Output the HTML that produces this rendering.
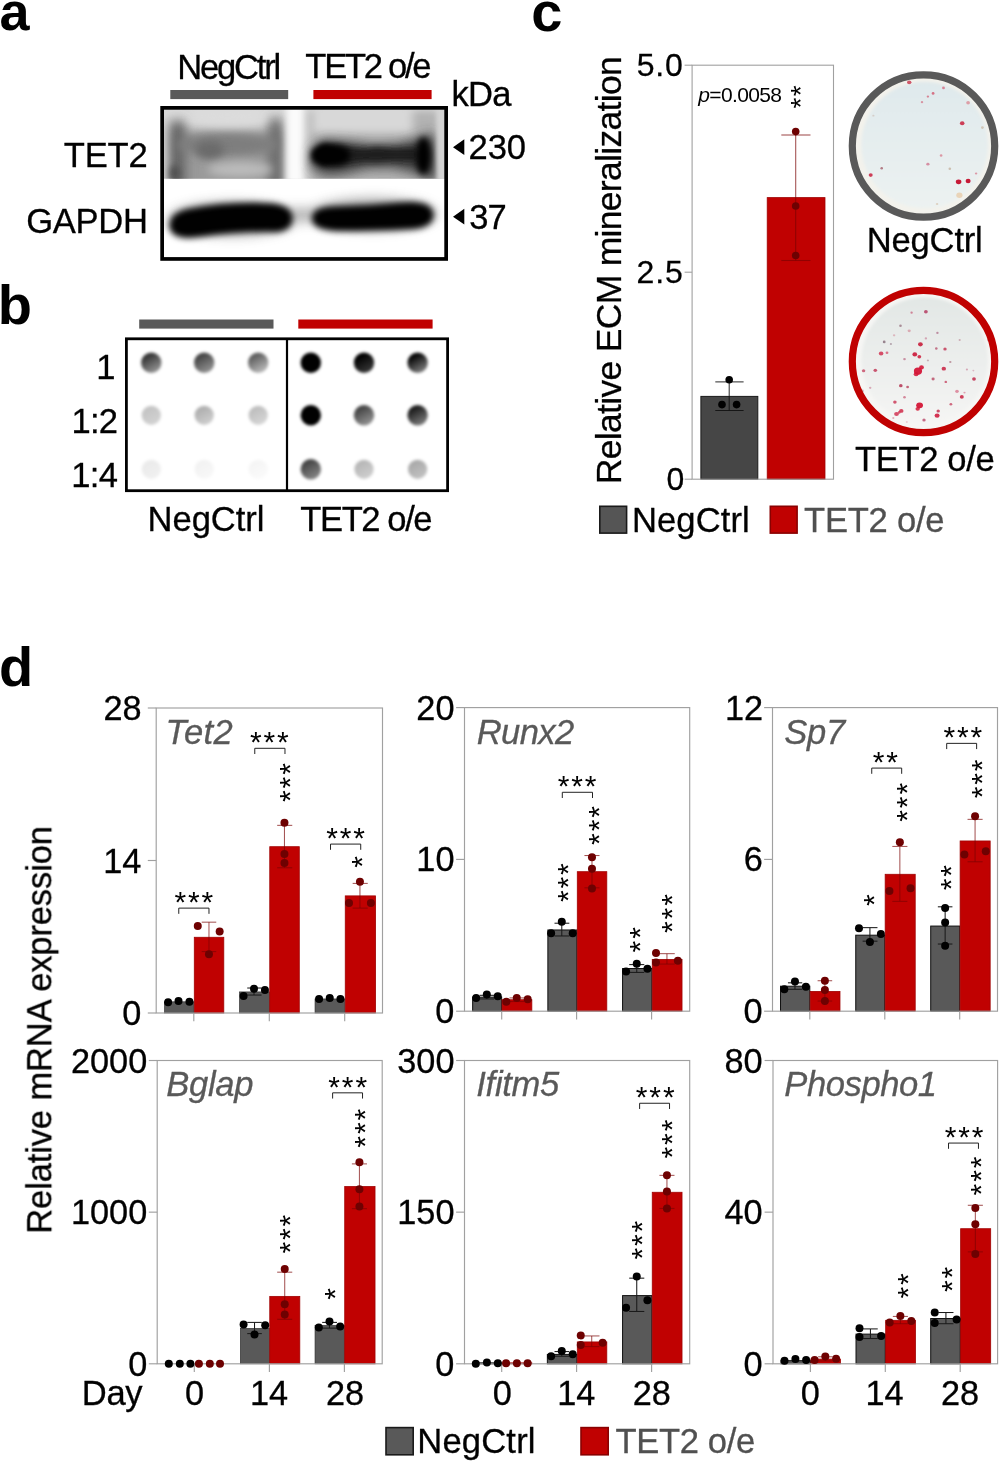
<!DOCTYPE html>
<html><head><meta charset="utf-8"><title>Figure</title>
<style>
html,body{margin:0;padding:0;background:#fff;}
body{width:999px;height:1462px;overflow:hidden;}
svg{display:block;font-family:"Liberation Sans",sans-serif;}
text{-webkit-font-smoothing:antialiased;}
</style></head><body>
<svg width="999" height="1462" viewBox="0 0 999 1462">
<defs>
<filter id="b1" filterUnits="userSpaceOnUse" x="130" y="80" width="350" height="200"><feGaussianBlur stdDeviation="1"/></filter>
<filter id="b2" filterUnits="userSpaceOnUse" x="130" y="80" width="350" height="200"><feGaussianBlur stdDeviation="2"/></filter>
<filter id="b3" filterUnits="userSpaceOnUse" x="130" y="80" width="350" height="200"><feGaussianBlur stdDeviation="3"/></filter>
<filter id="b4" filterUnits="userSpaceOnUse" x="130" y="80" width="350" height="200"><feGaussianBlur stdDeviation="4.5"/></filter>
<filter id="b6" filterUnits="userSpaceOnUse" x="130" y="80" width="350" height="200"><feGaussianBlur stdDeviation="6"/></filter>
<filter id="bd" x="-30%" y="-30%" width="160%" height="160%"><feGaussianBlur stdDeviation="1.3"/></filter>
<filter id="bs" x="-50%" y="-50%" width="200%" height="200%"><feGaussianBlur stdDeviation="0.6"/></filter>
<clipPath id="blotclip"><rect x="162" y="107.5" width="284.5" height="152"/></clipPath>
<clipPath id="upclip"><rect x="162" y="107.5" width="284.5" height="71.3"/></clipPath>
<clipPath id="loclip"><rect x="162" y="178.8" width="284.5" height="81"/></clipPath>
<filter id="bdot" filterUnits="userSpaceOnUse" x="120" y="335" width="335" height="160"><feGaussianBlur stdDeviation="1.4"/></filter>
<linearGradient id="dg00" x1="0.25" y1="0.05" x2="0.75" y2="0.95"><stop offset="0.15" stop-color="#000" stop-opacity="0.78"/><stop offset="0.9" stop-color="#000" stop-opacity="0.45"/></linearGradient>
<linearGradient id="dg01" x1="0.25" y1="0.05" x2="0.75" y2="0.95"><stop offset="0.15" stop-color="#000" stop-opacity="0.72"/><stop offset="0.9" stop-color="#000" stop-opacity="0.45"/></linearGradient>
<linearGradient id="dg02" x1="0.25" y1="0.05" x2="0.75" y2="0.95"><stop offset="0.15" stop-color="#000" stop-opacity="0.62"/><stop offset="0.9" stop-color="#000" stop-opacity="0.3"/></linearGradient>
<linearGradient id="dg03" x1="0.25" y1="0.05" x2="0.75" y2="0.95"><stop offset="0.15" stop-color="#000" stop-opacity="1"/><stop offset="0.9" stop-color="#000" stop-opacity="1"/></linearGradient>
<linearGradient id="dg04" x1="0.25" y1="0.05" x2="0.75" y2="0.95"><stop offset="0.15" stop-color="#000" stop-opacity="1"/><stop offset="0.9" stop-color="#000" stop-opacity="0.8"/></linearGradient>
<linearGradient id="dg05" x1="0.25" y1="0.05" x2="0.75" y2="0.95"><stop offset="0.15" stop-color="#000" stop-opacity="0.97"/><stop offset="0.9" stop-color="#000" stop-opacity="0.55"/></linearGradient>
<linearGradient id="dg10" x1="0.25" y1="0.05" x2="0.75" y2="0.95"><stop offset="0.15" stop-color="#000" stop-opacity="0.23"/><stop offset="0.9" stop-color="#000" stop-opacity="0.18"/></linearGradient>
<linearGradient id="dg11" x1="0.25" y1="0.05" x2="0.75" y2="0.95"><stop offset="0.15" stop-color="#000" stop-opacity="0.31"/><stop offset="0.9" stop-color="#000" stop-opacity="0.2"/></linearGradient>
<linearGradient id="dg12" x1="0.25" y1="0.05" x2="0.75" y2="0.95"><stop offset="0.15" stop-color="#000" stop-opacity="0.25"/><stop offset="0.9" stop-color="#000" stop-opacity="0.17"/></linearGradient>
<linearGradient id="dg13" x1="0.25" y1="0.05" x2="0.75" y2="0.95"><stop offset="0.15" stop-color="#000" stop-opacity="1"/><stop offset="0.9" stop-color="#000" stop-opacity="1"/></linearGradient>
<linearGradient id="dg14" x1="0.25" y1="0.05" x2="0.75" y2="0.95"><stop offset="0.15" stop-color="#000" stop-opacity="0.72"/><stop offset="0.9" stop-color="#000" stop-opacity="0.45"/></linearGradient>
<linearGradient id="dg15" x1="0.25" y1="0.05" x2="0.75" y2="0.95"><stop offset="0.15" stop-color="#000" stop-opacity="0.88"/><stop offset="0.9" stop-color="#000" stop-opacity="0.55"/></linearGradient>
<linearGradient id="dg20" x1="0.25" y1="0.05" x2="0.75" y2="0.95"><stop offset="0.15" stop-color="#000" stop-opacity="0.08"/><stop offset="0.9" stop-color="#000" stop-opacity="0.06"/></linearGradient>
<linearGradient id="dg21" x1="0.25" y1="0.05" x2="0.75" y2="0.95"><stop offset="0.15" stop-color="#000" stop-opacity="0.05"/><stop offset="0.9" stop-color="#000" stop-opacity="0.03"/></linearGradient>
<linearGradient id="dg22" x1="0.25" y1="0.05" x2="0.75" y2="0.95"><stop offset="0.15" stop-color="#000" stop-opacity="0.04"/><stop offset="0.9" stop-color="#000" stop-opacity="0.02"/></linearGradient>
<linearGradient id="dg23" x1="0.25" y1="0.05" x2="0.75" y2="0.95"><stop offset="0.15" stop-color="#000" stop-opacity="0.72"/><stop offset="0.9" stop-color="#000" stop-opacity="0.5"/></linearGradient>
<linearGradient id="dg24" x1="0.25" y1="0.05" x2="0.75" y2="0.95"><stop offset="0.15" stop-color="#000" stop-opacity="0.28"/><stop offset="0.9" stop-color="#000" stop-opacity="0.2"/></linearGradient>
<linearGradient id="dg25" x1="0.25" y1="0.05" x2="0.75" y2="0.95"><stop offset="0.15" stop-color="#000" stop-opacity="0.33"/><stop offset="0.9" stop-color="#000" stop-opacity="0.25"/></linearGradient>
<linearGradient id="dl1" x1="0" y1="0" x2="0" y2="1"><stop offset="0" stop-color="#dfe9ec"/><stop offset="1" stop-color="#ecf2f1"/></linearGradient>
<clipPath id="dc1"><circle cx="923.5" cy="146" r="68.8"/></clipPath>
<filter id="df1" filterUnits="userSpaceOnUse" x="833.5" y="56" width="180" height="180"><feGaussianBlur stdDeviation="1.6"/></filter>
<linearGradient id="dl2" x1="0" y1="0" x2="0" y2="1"><stop offset="0" stop-color="#e2e7e5"/><stop offset="1" stop-color="#f5f5f4"/></linearGradient>
<clipPath id="dc2"><circle cx="923.5" cy="361.5" r="68.8"/></clipPath>
<filter id="df2" filterUnits="userSpaceOnUse" x="833.5" y="271.5" width="180" height="180"><feGaussianBlur stdDeviation="1.6"/></filter>
</defs>
<rect width="999" height="1462" fill="#fff"/>
<g opacity="0.999">
<text x="-0.62" y="30.30" font-size="54.00" fill="#000" font-weight="bold">a</text>
<text x="177.23" y="78.70" font-size="34.60" fill="#000" stroke="#000" stroke-width="0.3" letter-spacing="-2.213">NegCtrl</text>
<text x="305.31" y="78.10" font-size="34.60" fill="#000" stroke="#000" stroke-width="0.3" letter-spacing="-2.280">TET2 o/e</text>
<rect x="170.30" y="90.00" width="117.90" height="9.10" fill="#595959" />
<rect x="313.40" y="90.00" width="118.20" height="9.10" fill="#c00000" />
<text x="451.55" y="105.50" font-size="34.60" fill="#000" stroke="#000" stroke-width="0.3" letter-spacing="-0.833">kDa</text>
<text x="63.81" y="167.20" font-size="34.60" fill="#000" stroke="#000" stroke-width="0.3" letter-spacing="-0.192">TET2</text>
<text x="26.17" y="232.60" font-size="34.60" fill="#000" stroke="#000" stroke-width="0.3" letter-spacing="-0.276">GAPDH</text>
<g clip-path="url(#blotclip)">
<g clip-path="url(#upclip)">
<rect x="160.00" y="106.00" width="290.00" height="74.00" fill="#dadada" />
<rect x="172.97" y="129.73" width="109.25" height="62.69" fill="#9a9a9a" filter="url(#b6)"/>
<rect x="169.86" y="121.04" width="14.90" height="71.38" fill="#5e5e5e" filter="url(#b6)"/>
<rect x="269.18" y="118.55" width="13.04" height="73.87" fill="#646464" filter="url(#b6)"/>
<ellipse cx="227.6" cy="144.6" rx="51.2" ry="11.2" fill="#7e7e7e" filter="url(#b4)"/>
<ellipse cx="209.6" cy="150.2" rx="14.3" ry="9.3" fill="#6a6a6a" filter="url(#b4)"/>
<ellipse cx="240.0" cy="169.5" rx="32.6" ry="7.4" fill="#bcbcbc" filter="url(#b4)"/>
<ellipse cx="227.6" cy="117.3" rx="38.8" ry="7.4" fill="#dcdcdc" filter="url(#b4)"/>
<ellipse cx="174.8" cy="173.2" rx="5.0" ry="8.1" fill="#505050" filter="url(#b3)"/>
<rect x="286.56" y="99.31" width="16.76" height="93.11" fill="#fbfbfb" filter="url(#b3)"/>
<rect x="308.91" y="110.48" width="129.73" height="81.94" fill="#b2b2b2" filter="url(#b4)"/>
<rect x="312.63" y="102.41" width="99.94" height="31.04" fill="#d8d8d8" filter="url(#b4)"/>
<path d="M310.8 149.6 L323.8 139.7 L348.6 142.1 L373.5 145.2 L398.3 144.0 L413.8 139.7 L434.0 132.2 L437.1 183.1 L413.8 172.6 L392.1 167.6 L367.3 168.2 L342.4 174.4 L323.8 175.7 L310.8 167.0 Z" fill="#3c3c3c" stroke="#3c3c3c" stroke-width="0" stroke-linejoin="round" filter="url(#b6)"/>
<path d="M323.8 149.0 L342.4 147.1 L364.2 149.3 L376.6 147.7 L395.2 149.3 L416.9 148.3 L416.9 160.5 L395.2 159.8 L376.6 161.1 L364.2 160.5 L342.4 163.2 L323.8 162.6 Z" fill="#1a1a1a" stroke="#1a1a1a" stroke-width="1" stroke-linejoin="round" filter="url(#b3)"/>
<path d="M313.3 152.1 L322.6 144.6 L339.3 145.9 L348.6 150.8 L348.6 160.1 L339.3 164.5 L322.6 165.1 L313.3 160.1 Z" fill="#000" stroke="#000" stroke-width="2" stroke-linejoin="round" filter="url(#b3)"/>
<ellipse cx="423.4" cy="155.8" rx="7.8" ry="18.6" fill="#000" filter="url(#b3)"/>
<ellipse cx="324.4" cy="154.6" rx="11.2" ry="7.8" fill="#000" filter="url(#b3)"/>
<rect x="437.09" y="102.41" width="10.86" height="90.01" fill="#d4d4d4" filter="url(#b2)"/>
</g>
<g clip-path="url(#loclip)">
<rect x="160.00" y="178.80" width="290.00" height="82.00" fill="#fff" />
<g filter="url(#b6)" opacity="0.55">
<ellipse cx="232" cy="219" rx="64" ry="17" fill="#666"/>
<ellipse cx="373" cy="214" rx="64" ry="16" fill="#666"/>
<rect x="285.00" y="208.00" width="35.00" height="14.00" fill="#777" />
</g>
<g filter="url(#b3)">
<path transform="translate(0 2.4)" d="M172 225 Q171 213 188 209 Q225 202 262 203 Q288 203 290 214 Q291 226 276 227 Q236 226 200 232 Q175 236 172 225 Z" fill="#000" stroke="#000" stroke-width="5" stroke-linejoin="round"/>
<path transform="translate(0 1.8)" d="M314 217 Q314 208 332 207 Q372 206 400 203 Q428 200 431 211 Q433 223 414 225 Q372 227 336 227 Q315 226 314 217 Z" fill="#000" stroke="#000" stroke-width="4.5" stroke-linejoin="round"/>
</g>
</g>
</g>
<rect x="162.15" y="107.85" width="284.00" height="151.10" fill="none" stroke="#000" stroke-width="3.7" />
<path d="M453 147.2 L464.3 139.3 V155.1 Z" fill="#000"/>
<text x="468.47" y="158.60" font-size="34.60" fill="#000" stroke="#000" stroke-width="0.3" letter-spacing="-0.034">230</text>
<path d="M453 216.7 L464.3 208.8 V224.6 Z" fill="#000"/>
<text x="469.22" y="228.60" font-size="34.60" fill="#000" stroke="#000" stroke-width="0.3" letter-spacing="-0.992">37</text>
<text x="-2.34" y="324.30" font-size="56.00" fill="#000" font-weight="bold">b</text>
<rect x="139.20" y="319.50" width="134.30" height="9.10" fill="#595959" />
<rect x="298.30" y="319.50" width="134.30" height="9.10" fill="#c00000" />
<rect x="126.40" y="338.80" width="321.20" height="151.90" fill="#fff" stroke="#000" stroke-width="2.8" />
<line x1="287.00" y1="338.80" x2="287.00" y2="490.80" stroke="#000" stroke-width="2.2" />
<circle cx="151.3" cy="362.8" r="10.2" fill="url(#dg00)" filter="url(#bdot)"/>
<circle cx="204.2" cy="362.8" r="10.2" fill="url(#dg01)" filter="url(#bdot)"/>
<circle cx="258.2" cy="362.8" r="10.2" fill="url(#dg02)" filter="url(#bdot)"/>
<circle cx="310.8" cy="362.8" r="10.2" fill="url(#dg03)" filter="url(#bdot)"/>
<circle cx="364.0" cy="362.8" r="10.2" fill="url(#dg04)" filter="url(#bdot)"/>
<circle cx="417.6" cy="362.8" r="10.2" fill="url(#dg05)" filter="url(#bdot)"/>
<circle cx="151.3" cy="415.3" r="9.6" fill="url(#dg10)" filter="url(#bdot)"/>
<circle cx="204.2" cy="415.3" r="9.6" fill="url(#dg11)" filter="url(#bdot)"/>
<circle cx="258.2" cy="415.3" r="9.6" fill="url(#dg12)" filter="url(#bdot)"/>
<circle cx="310.8" cy="415.3" r="10.2" fill="url(#dg13)" filter="url(#bdot)"/>
<circle cx="364.0" cy="415.3" r="10.2" fill="url(#dg14)" filter="url(#bdot)"/>
<circle cx="417.6" cy="415.3" r="10.2" fill="url(#dg15)" filter="url(#bdot)"/>
<circle cx="151.3" cy="469.3" r="9.6" fill="url(#dg20)" filter="url(#bdot)"/>
<circle cx="204.2" cy="469.3" r="9.6" fill="url(#dg21)" filter="url(#bdot)"/>
<circle cx="258.2" cy="469.3" r="9.6" fill="url(#dg22)" filter="url(#bdot)"/>
<circle cx="310.8" cy="469.3" r="10.2" fill="url(#dg23)" filter="url(#bdot)"/>
<circle cx="364.0" cy="469.3" r="9.6" fill="url(#dg24)" filter="url(#bdot)"/>
<circle cx="417.6" cy="469.3" r="9.6" fill="url(#dg25)" filter="url(#bdot)"/>
<text x="96.35" y="378.80" font-size="34.60" fill="#000" stroke="#000" stroke-width="0.3">1</text>
<text x="71.41" y="433.00" font-size="34.60" fill="#000" stroke="#000" stroke-width="0.3" letter-spacing="-0.685">1:2</text>
<text x="71.20" y="487.00" font-size="34.60" fill="#000" stroke="#000" stroke-width="0.3" letter-spacing="-0.631">1:4</text>
<text x="147.53" y="530.80" font-size="34.60" fill="#000" stroke="#000" stroke-width="0.3" letter-spacing="-0.046">NegCtrl</text>
<text x="300.31" y="530.80" font-size="34.60" fill="#000" stroke="#000" stroke-width="0.3" letter-spacing="-1.422">TET2 o/e</text>
<text x="531.36" y="31.30" font-size="56.00" fill="#000" font-weight="bold">c</text>
<text transform="translate(620.90 484.14) rotate(-90)" font-size="35.50" fill="#000" stroke="#000" stroke-width="0.3" letter-spacing="-0.694">Relative ECM mineralization</text>
<rect x="700.90" y="396.40" width="56.90" height="82.80" fill="#464646" stroke="#1a1a1a" stroke-width="1" />
<rect x="767.20" y="197.60" width="57.80" height="281.60" fill="#c00000" stroke="#a00000" stroke-width="0.8" />
<rect x="692.10" y="65.20" width="141.40" height="414.00" fill="none" stroke="#a0a0a0" stroke-width="1.1" />
<line x1="684.60" y1="65.20" x2="692.10" y2="65.20" stroke="#a0a0a0" stroke-width="1.1" />
<text x="636.72" y="76.20" font-size="32.00" fill="#000" stroke="#000" stroke-width="0.3" letter-spacing="0.760">5.0</text>
<line x1="684.60" y1="272.20" x2="692.10" y2="272.20" stroke="#a0a0a0" stroke-width="1.1" />
<text x="636.40" y="283.20" font-size="32.00" fill="#000" stroke="#000" stroke-width="0.3" letter-spacing="1.000">2.5</text>
<line x1="684.60" y1="479.20" x2="692.10" y2="479.20" stroke="#a0a0a0" stroke-width="1.1" />
<text x="666.56" y="490.20" font-size="32.00" fill="#000" stroke="#000" stroke-width="0.3">0</text>
<line x1="729.20" y1="381.90" x2="729.20" y2="410.50" stroke="#111" stroke-width="0.9" />
<line x1="715.30" y1="381.90" x2="743.60" y2="381.90" stroke="#111" stroke-width="0.9" />
<line x1="715.30" y1="410.50" x2="743.60" y2="410.50" stroke="#111" stroke-width="0.9" />
<circle cx="729.20" cy="379.80" r="3.80" fill="#000" />
<circle cx="722.00" cy="404.60" r="3.80" fill="#000" />
<circle cx="736.60" cy="404.60" r="3.80" fill="#000" />
<line x1="795.70" y1="135.00" x2="795.70" y2="260.50" stroke="#7a0000" stroke-width="1.1" stroke-opacity="0.68"/>
<line x1="781.30" y1="135.00" x2="810.50" y2="135.00" stroke="#7a0000" stroke-width="1.1" stroke-opacity="0.68"/>
<line x1="781.30" y1="260.50" x2="810.50" y2="260.50" stroke="#7a0000" stroke-width="1.1" stroke-opacity="0.68"/>
<circle cx="795.70" cy="131.60" r="3.80" fill="#6e0000" />
<circle cx="795.70" cy="206.00" r="3.80" fill="#6e0000" />
<circle cx="795.70" cy="255.50" r="3.80" fill="#6e0000" />
<text x="698.2" y="101.8" font-size="21" letter-spacing="-0.62"><tspan font-style="italic">p</tspan>=0.0058</text>
<text transform="translate(809.72 108.46) rotate(-90)" font-size="28" letter-spacing="1.3">**</text>
<rect x="599.80" y="506.30" width="26.80" height="26.80" fill="#555" stroke="#1a1a1a" stroke-width="1.6" />
<text x="632.03" y="531.50" font-size="34.60" fill="#000" stroke="#000" stroke-width="0.3" letter-spacing="0.070">NegCtrl</text>
<rect x="770.30" y="506.30" width="26.80" height="26.80" fill="#c00000" stroke="#8a0000" stroke-width="1.6" />
<text x="804.01" y="531.50" font-size="34.60" fill="#505050" stroke="#505050" stroke-width="0.3" letter-spacing="-0.237">TET2 o/e</text>
<circle cx="923.5" cy="146" r="71.2" fill="#f3f2ec"/>
<g clip-path="url(#dc1)">
<circle cx="924.7" cy="145.0" r="63.3" fill="url(#dl1)" filter="url(#df1)"/>
</g>
<g clip-path="url(#dc1)" filter="url(#bs)">
<ellipse cx="909.2" cy="82.3" rx="2.2" ry="1.9" fill="#c8324a" fill-opacity="0.8"/>
<ellipse cx="943.5" cy="87.9" rx="1.4" ry="1.3" fill="#d0405a" fill-opacity="0.6"/>
<ellipse cx="933.1" cy="93.4" rx="1.4" ry="1.3" fill="#d0405a" fill-opacity="0.7"/>
<ellipse cx="927.9" cy="96.6" rx="1.2" ry="1.1" fill="#d0405a" fill-opacity="0.6"/>
<ellipse cx="922.0" cy="102.2" rx="1.2" ry="1.1" fill="#d0405a" fill-opacity="0.5"/>
<ellipse cx="968.1" cy="102.7" rx="1.9" ry="1.7" fill="#d86a78" fill-opacity="0.6"/>
<ellipse cx="962.2" cy="123.3" rx="2.3" ry="2.0" fill="#c8203c" fill-opacity="0.85"/>
<ellipse cx="941.1" cy="155.5" rx="1.3" ry="1.2" fill="#d0405a" fill-opacity="0.5"/>
<ellipse cx="927.9" cy="164.2" rx="1.6" ry="1.4" fill="#c85070" fill-opacity="0.6"/>
<ellipse cx="881.7" cy="168.2" rx="1.3" ry="1.2" fill="#903040" fill-opacity="0.6"/>
<ellipse cx="870.7" cy="175.1" rx="2.0" ry="1.8" fill="#c8203c" fill-opacity="0.85"/>
<ellipse cx="949.8" cy="168.7" rx="1.3" ry="1.2" fill="#b09070" fill-opacity="0.5"/>
<ellipse cx="976.1" cy="173.5" rx="1.2" ry="1.1" fill="#d0405a" fill-opacity="0.5"/>
<ellipse cx="958.6" cy="181.8" rx="2.8" ry="2.4" fill="#c4102c" fill-opacity="0.95"/>
<ellipse cx="968.1" cy="181.0" rx="2.5" ry="2.2" fill="#c4102c" fill-opacity="0.95"/>
<ellipse cx="959.4" cy="195.3" rx="3.1" ry="2.7" fill="#e8c8a0" fill-opacity="0.7"/>
<ellipse cx="982.4" cy="127.6" rx="1.4" ry="1.3" fill="#c0a080" fill-opacity="0.5"/>
<ellipse cx="873.4" cy="115.7" rx="1.1" ry="0.9" fill="#c0a090" fill-opacity="0.4"/>
<ellipse cx="937.1" cy="204.0" rx="1.2" ry="1.1" fill="#d0b090" fill-opacity="0.5"/>
</g>
<circle cx="923.5" cy="146" r="71.2" fill="none" stroke="#595959" stroke-width="7.2"/>
<circle cx="923.5" cy="361.5" r="71.2" fill="#f6f6f4"/>
<g clip-path="url(#dc2)">
<circle cx="924.7" cy="360.5" r="63.3" fill="url(#dl2)" filter="url(#df2)"/>
</g>
<g clip-path="url(#dc2)" filter="url(#bs)">
<ellipse cx="925.9" cy="311.7" rx="1.9" ry="1.7" fill="#b03058" fill-opacity="0.8"/>
<ellipse cx="911.6" cy="312.7" rx="1.2" ry="1.1" fill="#c04060" fill-opacity="0.6"/>
<ellipse cx="900.5" cy="325.7" rx="1.3" ry="1.2" fill="#805060" fill-opacity="0.6"/>
<ellipse cx="909.2" cy="330.8" rx="1.6" ry="1.4" fill="#d08090" fill-opacity="0.6"/>
<ellipse cx="894.1" cy="335.3" rx="1.2" ry="1.1" fill="#d08090" fill-opacity="0.5"/>
<ellipse cx="937.4" cy="332.9" rx="1.2" ry="1.1" fill="#a05070" fill-opacity="0.6"/>
<ellipse cx="925.9" cy="338.4" rx="1.2" ry="1.1" fill="#c06080" fill-opacity="0.5"/>
<ellipse cx="884.2" cy="341.9" rx="1.4" ry="1.3" fill="#604050" fill-opacity="0.6"/>
<ellipse cx="890.9" cy="344.0" rx="1.1" ry="0.9" fill="#806070" fill-opacity="0.5"/>
<ellipse cx="920.4" cy="344.3" rx="2.4" ry="2.1" fill="#c8203c" fill-opacity="0.9"/>
<ellipse cx="959.7" cy="340.0" rx="1.1" ry="0.9" fill="#b07080" fill-opacity="0.5"/>
<ellipse cx="936.3" cy="348.5" rx="1.3" ry="1.2" fill="#b04060" fill-opacity="0.7"/>
<ellipse cx="945.0" cy="349.1" rx="1.7" ry="1.5" fill="#c03050" fill-opacity="0.8"/>
<ellipse cx="881.1" cy="353.6" rx="2.3" ry="2.0" fill="#d02848" fill-opacity="0.8"/>
<ellipse cx="887.0" cy="352.8" rx="1.4" ry="1.3" fill="#d04060" fill-opacity="0.7"/>
<ellipse cx="914.8" cy="354.4" rx="2.4" ry="2.1" fill="#cc1838" fill-opacity="0.9"/>
<ellipse cx="919.3" cy="356.7" rx="1.9" ry="1.7" fill="#cc1838" fill-opacity="0.85"/>
<ellipse cx="904.5" cy="359.1" rx="1.3" ry="1.2" fill="#b05070" fill-opacity="0.6"/>
<ellipse cx="927.9" cy="360.4" rx="1.1" ry="0.9" fill="#a07080" fill-opacity="0.5"/>
<ellipse cx="950.3" cy="362.0" rx="1.2" ry="1.1" fill="#a06070" fill-opacity="0.6"/>
<ellipse cx="943.8" cy="368.7" rx="2.2" ry="1.9" fill="#c82040" fill-opacity="0.85"/>
<ellipse cx="918.0" cy="371.1" rx="4.1" ry="3.6" fill="#d41436" fill-opacity="0.95"/>
<ellipse cx="921.5" cy="367.4" rx="2.4" ry="2.1" fill="#d41436" fill-opacity="0.9"/>
<ellipse cx="916.1" cy="374.2" rx="2.4" ry="2.1" fill="#d41436" fill-opacity="0.85"/>
<ellipse cx="875.3" cy="370.3" rx="1.8" ry="1.6" fill="#c03050" fill-opacity="0.8"/>
<ellipse cx="863.6" cy="370.7" rx="1.7" ry="1.5" fill="#c03050" fill-opacity="0.7"/>
<ellipse cx="966.9" cy="369.5" rx="1.1" ry="0.9" fill="#c06080" fill-opacity="0.5"/>
<ellipse cx="973.4" cy="370.6" rx="1.0" ry="0.8" fill="#c06080" fill-opacity="0.4"/>
<ellipse cx="974.0" cy="379.0" rx="1.9" ry="1.7" fill="#c02848" fill-opacity="0.85"/>
<ellipse cx="933.1" cy="379.0" rx="1.6" ry="1.4" fill="#b03050" fill-opacity="0.7"/>
<ellipse cx="945.8" cy="381.9" rx="1.3" ry="1.2" fill="#c03050" fill-opacity="0.7"/>
<ellipse cx="900.8" cy="385.7" rx="1.8" ry="1.6" fill="#b02848" fill-opacity="0.8"/>
<ellipse cx="907.6" cy="387.0" rx="1.4" ry="1.3" fill="#b02848" fill-opacity="0.7"/>
<ellipse cx="870.2" cy="387.8" rx="1.2" ry="1.1" fill="#c06080" fill-opacity="0.5"/>
<ellipse cx="957.0" cy="391.3" rx="1.8" ry="1.6" fill="#d05070" fill-opacity="0.6"/>
<ellipse cx="961.8" cy="396.9" rx="2.0" ry="1.8" fill="#c82040" fill-opacity="0.85"/>
<ellipse cx="964.5" cy="392.6" rx="1.1" ry="0.9" fill="#d05070" fill-opacity="0.5"/>
<ellipse cx="904.5" cy="397.3" rx="1.3" ry="1.2" fill="#c04060" fill-opacity="0.6"/>
<ellipse cx="894.9" cy="402.1" rx="1.8" ry="1.6" fill="#c83050" fill-opacity="0.8"/>
<ellipse cx="950.9" cy="404.2" rx="1.4" ry="1.3" fill="#c03050" fill-opacity="0.7"/>
<ellipse cx="919.6" cy="405.3" rx="3.4" ry="2.9" fill="#d41436" fill-opacity="0.95"/>
<ellipse cx="917.7" cy="408.8" rx="2.2" ry="1.9" fill="#d41436" fill-opacity="0.85"/>
<ellipse cx="901.3" cy="410.9" rx="2.2" ry="1.9" fill="#d02848" fill-opacity="0.85"/>
<ellipse cx="896.5" cy="414.0" rx="2.4" ry="2.1" fill="#d02848" fill-opacity="0.8"/>
<ellipse cx="899.2" cy="412.4" rx="1.4" ry="1.3" fill="#d02848" fill-opacity="0.7"/>
<ellipse cx="938.2" cy="410.9" rx="1.7" ry="1.5" fill="#c02848" fill-opacity="0.8"/>
<ellipse cx="937.1" cy="415.6" rx="2.5" ry="2.2" fill="#d02040" fill-opacity="0.9"/>
<ellipse cx="924.0" cy="419.9" rx="1.7" ry="1.5" fill="#b03058" fill-opacity="0.7"/>
<ellipse cx="893.3" cy="418.0" rx="1.1" ry="0.9" fill="#d06080" fill-opacity="0.5"/>
<ellipse cx="906.8" cy="422.0" rx="1.0" ry="0.8" fill="#d06080" fill-opacity="0.4"/>
<ellipse cx="988.8" cy="340.0" rx="1.7" ry="1.5" fill="#b06070" fill-opacity="0.5"/>
<ellipse cx="862.3" cy="391.0" rx="1.6" ry="1.4" fill="#b08090" fill-opacity="0.5"/>
</g>
<circle cx="923.5" cy="361.5" r="71.2" fill="none" stroke="#c00000" stroke-width="7.2"/>
<text x="866.83" y="251.80" font-size="34.60" fill="#000" stroke="#000" stroke-width="0.3" letter-spacing="-0.213">NegCtrl</text>
<text x="854.91" y="470.80" font-size="34.60" fill="#000" stroke="#000" stroke-width="0.3" letter-spacing="-0.351">TET2 o/e</text>
<text x="-0.94" y="685.80" font-size="56.00" fill="#000" font-weight="bold">d</text>
<text transform="translate(51.30 1233.77) rotate(-90)" font-size="34.60" fill="#000" stroke="#000" stroke-width="0.3" letter-spacing="-0.154">Relative mRNA expression</text>
<rect x="164.61" y="1001.82" width="29.27" height="11.18" fill="#595959" stroke="#333" stroke-width="0.7" />
<rect x="194.28" y="937.27" width="29.53" height="75.73" fill="#c00000" stroke="#a00000" stroke-width="0.8" />
<rect x="239.57" y="991.93" width="29.79" height="21.07" fill="#595959" stroke="#333" stroke-width="0.7" />
<rect x="269.76" y="846.69" width="29.53" height="166.31" fill="#c00000" stroke="#a00000" stroke-width="0.8" />
<rect x="315.05" y="998.95" width="29.79" height="14.05" fill="#595959" stroke="#333" stroke-width="0.7" />
<rect x="345.24" y="895.88" width="30.31" height="117.12" fill="#c00000" stroke="#a00000" stroke-width="0.8" />
<rect x="156.20" y="708.00" width="226.30" height="305.00" fill="none" stroke="#a0a0a0" stroke-width="1.15" />
<line x1="147.80" y1="708.00" x2="156.20" y2="708.00" stroke="#a0a0a0" stroke-width="1.15" />
<text x="103.50" y="720.00" font-size="34.30" fill="#000" stroke="#000" stroke-width="0.3">28</text>
<line x1="147.80" y1="860.50" x2="156.20" y2="860.50" stroke="#a0a0a0" stroke-width="1.15" />
<text x="103.16" y="872.50" font-size="34.30" fill="#000" stroke="#000" stroke-width="0.3">14</text>
<line x1="147.80" y1="1013.00" x2="156.20" y2="1013.00" stroke="#a0a0a0" stroke-width="1.15" />
<text x="122.36" y="1025.00" font-size="34.30" fill="#000" stroke="#000" stroke-width="0.3">0</text>
<line x1="193.80" y1="1013.00" x2="193.80" y2="1021.30" stroke="#a0a0a0" stroke-width="1.15" />
<line x1="269.30" y1="1013.00" x2="269.30" y2="1021.30" stroke="#a0a0a0" stroke-width="1.15" />
<line x1="344.70" y1="1013.00" x2="344.70" y2="1021.30" stroke="#a0a0a0" stroke-width="1.15" />
<circle cx="168.11" cy="1002.34" r="4.00" fill="#000" />
<circle cx="178.52" cy="1001.04" r="4.00" fill="#000" />
<circle cx="189.45" cy="1001.82" r="4.00" fill="#000" />
<line x1="208.97" y1="922.17" x2="208.97" y2="951.58" stroke="#7a0000" stroke-width="1.05" stroke-opacity="0.68"/>
<line x1="201.69" y1="922.17" x2="216.26" y2="922.17" stroke="#7a0000" stroke-width="1.05" stroke-opacity="0.68"/>
<line x1="201.69" y1="951.58" x2="216.26" y2="951.58" stroke="#7a0000" stroke-width="1.05" stroke-opacity="0.68"/>
<circle cx="197.78" cy="926.07" r="4.00" fill="#6e0000" />
<circle cx="219.65" cy="931.54" r="4.00" fill="#6e0000" />
<circle cx="208.97" cy="954.19" r="4.00" fill="#6e0000" />
<line x1="254.00" y1="988.02" x2="254.00" y2="995.05" stroke="#1a1a1a" stroke-width="1.05" />
<line x1="247.24" y1="988.02" x2="261.55" y2="988.02" stroke="#1a1a1a" stroke-width="1.05" />
<line x1="247.24" y1="995.05" x2="261.55" y2="995.05" stroke="#1a1a1a" stroke-width="1.05" />
<circle cx="243.59" cy="996.09" r="4.00" fill="#000" />
<circle cx="254.00" cy="988.80" r="4.00" fill="#000" />
<circle cx="264.93" cy="990.10" r="4.00" fill="#000" />
<line x1="284.46" y1="825.35" x2="284.46" y2="867.77" stroke="#7a0000" stroke-width="1.05" stroke-opacity="0.68"/>
<line x1="277.17" y1="825.35" x2="292.26" y2="825.35" stroke="#7a0000" stroke-width="1.05" stroke-opacity="0.68"/>
<line x1="277.17" y1="867.77" x2="292.26" y2="867.77" stroke="#7a0000" stroke-width="1.05" stroke-opacity="0.68"/>
<circle cx="284.46" cy="822.74" r="4.00" fill="#6e0000" />
<circle cx="284.46" cy="853.98" r="4.00" fill="#6e0000" />
<circle cx="284.46" cy="863.09" r="4.00" fill="#6e0000" />
<circle cx="319.07" cy="998.95" r="4.00" fill="#000" />
<circle cx="329.74" cy="997.91" r="4.00" fill="#000" />
<circle cx="340.42" cy="998.95" r="4.00" fill="#000" />
<line x1="359.94" y1="883.39" x2="359.94" y2="908.12" stroke="#7a0000" stroke-width="1.05" stroke-opacity="0.68"/>
<line x1="352.65" y1="883.39" x2="367.75" y2="883.39" stroke="#7a0000" stroke-width="1.05" stroke-opacity="0.68"/>
<line x1="352.65" y1="908.12" x2="367.75" y2="908.12" stroke="#7a0000" stroke-width="1.05" stroke-opacity="0.68"/>
<circle cx="359.94" cy="881.83" r="4.00" fill="#6e0000" />
<circle cx="349.01" cy="902.91" r="4.00" fill="#6e0000" />
<circle cx="370.87" cy="902.91" r="4.00" fill="#6e0000" />
<path d="M178.78 913.84 V908.12 H208.97 V913.84" fill="none" stroke="#222" stroke-width="1"/>
<text x="174.43" y="911.92" font-size="30.00" fill="#000" letter-spacing="1.900">***</text>
<path d="M254.78 754.03 V748.30 H284.98 V754.03" fill="none" stroke="#222" stroke-width="1"/>
<text x="249.91" y="752.10" font-size="30.00" fill="#000" letter-spacing="1.900">***</text>
<path d="M330.53 849.81 V844.09 H360.72 V849.81" fill="none" stroke="#222" stroke-width="1"/>
<text x="326.17" y="847.89" font-size="30.00" fill="#000" letter-spacing="1.900">***</text>
<text transform="translate(300.31 801.97) rotate(-90)" font-size="30" letter-spacing="1.9">***</text>
<text transform="translate(371.88 867.79) rotate(-90)" font-size="30" letter-spacing="1.9">*</text>
<text x="165.52" y="744.14" font-size="34.60" fill="#595959" stroke="#595959" stroke-width="0.3" font-style="italic" letter-spacing="0.439">Tet2</text>
<rect x="472.65" y="997.13" width="29.01" height="14.07" fill="#595959" stroke="#111" stroke-width="1.0" />
<rect x="502.06" y="999.73" width="29.79" height="11.47" fill="#c00000" stroke="#a00000" stroke-width="0.8" />
<rect x="547.87" y="929.98" width="29.01" height="81.22" fill="#595959" stroke="#111" stroke-width="1.0" />
<rect x="577.28" y="871.68" width="29.53" height="139.52" fill="#c00000" stroke="#a00000" stroke-width="0.8" />
<rect x="622.57" y="968.50" width="29.27" height="42.70" fill="#595959" stroke="#111" stroke-width="1.0" />
<rect x="652.24" y="959.39" width="29.79" height="51.81" fill="#c00000" stroke="#a00000" stroke-width="0.8" />
<rect x="464.50" y="707.60" width="225.20" height="303.60" fill="none" stroke="#a0a0a0" stroke-width="1.15" />
<line x1="456.10" y1="707.60" x2="464.50" y2="707.60" stroke="#a0a0a0" stroke-width="1.15" />
<text x="416.33" y="719.60" font-size="34.30" fill="#000" stroke="#000" stroke-width="0.3">20</text>
<line x1="456.10" y1="859.40" x2="464.50" y2="859.40" stroke="#a0a0a0" stroke-width="1.15" />
<text x="416.33" y="871.40" font-size="34.30" fill="#000" stroke="#000" stroke-width="0.3">10</text>
<line x1="456.10" y1="1011.20" x2="464.50" y2="1011.20" stroke="#a0a0a0" stroke-width="1.15" />
<text x="435.36" y="1023.20" font-size="34.30" fill="#000" stroke="#000" stroke-width="0.3">0</text>
<line x1="501.70" y1="1011.20" x2="501.70" y2="1019.50" stroke="#a0a0a0" stroke-width="1.15" />
<line x1="576.60" y1="1011.20" x2="576.60" y2="1019.50" stroke="#a0a0a0" stroke-width="1.15" />
<line x1="651.60" y1="1011.20" x2="651.60" y2="1019.50" stroke="#a0a0a0" stroke-width="1.15" />
<line x1="486.82" y1="995.31" x2="486.82" y2="998.95" stroke="#1a1a1a" stroke-width="1.05" />
<line x1="479.54" y1="995.31" x2="494.11" y2="995.31" stroke="#1a1a1a" stroke-width="1.05" />
<line x1="479.54" y1="998.95" x2="494.11" y2="998.95" stroke="#1a1a1a" stroke-width="1.05" />
<circle cx="476.15" cy="997.91" r="4.00" fill="#000" />
<circle cx="486.82" cy="994.53" r="4.00" fill="#000" />
<circle cx="497.75" cy="996.35" r="4.00" fill="#000" />
<line x1="516.76" y1="997.91" x2="516.76" y2="1001.56" stroke="#7a0000" stroke-width="1.05" stroke-opacity="0.68"/>
<line x1="509.47" y1="997.91" x2="524.04" y2="997.91" stroke="#7a0000" stroke-width="1.05" stroke-opacity="0.68"/>
<line x1="509.47" y1="1001.56" x2="524.04" y2="1001.56" stroke="#7a0000" stroke-width="1.05" stroke-opacity="0.68"/>
<circle cx="506.34" cy="1001.82" r="4.00" fill="#6e0000" />
<circle cx="516.76" cy="997.91" r="4.00" fill="#6e0000" />
<circle cx="527.69" cy="999.21" r="4.00" fill="#6e0000" />
<line x1="561.78" y1="923.21" x2="561.78" y2="935.97" stroke="#1a1a1a" stroke-width="1.05" />
<line x1="554.50" y1="923.21" x2="569.33" y2="923.21" stroke="#1a1a1a" stroke-width="1.05" />
<line x1="554.50" y1="935.97" x2="569.33" y2="935.97" stroke="#1a1a1a" stroke-width="1.05" />
<circle cx="561.78" cy="921.65" r="4.00" fill="#000" />
<circle cx="551.11" cy="933.36" r="4.00" fill="#000" />
<circle cx="572.72" cy="933.36" r="4.00" fill="#000" />
<line x1="591.98" y1="855.54" x2="591.98" y2="887.81" stroke="#7a0000" stroke-width="1.05" stroke-opacity="0.68"/>
<line x1="584.43" y1="855.54" x2="599.52" y2="855.54" stroke="#7a0000" stroke-width="1.05" stroke-opacity="0.68"/>
<line x1="584.43" y1="887.81" x2="599.52" y2="887.81" stroke="#7a0000" stroke-width="1.05" stroke-opacity="0.68"/>
<circle cx="591.98" cy="857.36" r="4.00" fill="#6e0000" />
<circle cx="591.98" cy="868.81" r="4.00" fill="#6e0000" />
<circle cx="591.98" cy="888.59" r="4.00" fill="#6e0000" />
<line x1="636.74" y1="964.60" x2="636.74" y2="972.40" stroke="#1a1a1a" stroke-width="1.05" />
<line x1="629.20" y1="964.60" x2="644.29" y2="964.60" stroke="#1a1a1a" stroke-width="1.05" />
<line x1="629.20" y1="972.40" x2="644.29" y2="972.40" stroke="#1a1a1a" stroke-width="1.05" />
<circle cx="636.74" cy="963.82" r="4.00" fill="#000" />
<circle cx="626.07" cy="971.62" r="4.00" fill="#000" />
<circle cx="647.42" cy="968.76" r="4.00" fill="#000" />
<line x1="666.94" y1="953.66" x2="666.94" y2="964.08" stroke="#7a0000" stroke-width="1.05" stroke-opacity="0.68"/>
<line x1="659.65" y1="953.66" x2="674.75" y2="953.66" stroke="#7a0000" stroke-width="1.05" stroke-opacity="0.68"/>
<line x1="659.65" y1="964.08" x2="674.75" y2="964.08" stroke="#7a0000" stroke-width="1.05" stroke-opacity="0.68"/>
<circle cx="656.01" cy="952.88" r="4.00" fill="#6e0000" />
<circle cx="656.01" cy="962.51" r="4.00" fill="#6e0000" />
<circle cx="677.87" cy="960.69" r="4.00" fill="#6e0000" />
<path d="M562.30 798.02 V792.29 H592.50 V798.02" fill="none" stroke="#222" stroke-width="1"/>
<text x="557.69" y="796.09" font-size="30.00" fill="#000" letter-spacing="1.900">***</text>
<text transform="translate(608.61 844.92) rotate(-90)" font-size="30" letter-spacing="1.9">***</text>
<text transform="translate(577.90 902.05) rotate(-90)" font-size="30" letter-spacing="1.9">***</text>
<text transform="translate(650.25 952.40) rotate(-90)" font-size="30" letter-spacing="1.9">**</text>
<text transform="translate(682.27 933.02) rotate(-90)" font-size="30" letter-spacing="1.9">***</text>
<text x="476.68" y="744.14" font-size="34.60" fill="#595959" stroke="#595959" stroke-width="0.3" font-style="italic" letter-spacing="-0.598">Runx2</text>
<rect x="780.52" y="986.20" width="29.27" height="25.00" fill="#595959" stroke="#111" stroke-width="1.0" />
<rect x="810.20" y="991.41" width="29.79" height="19.79" fill="#c00000" stroke="#a00000" stroke-width="0.8" />
<rect x="855.75" y="935.18" width="29.01" height="76.02" fill="#595959" stroke="#111" stroke-width="1.0" />
<rect x="885.16" y="874.28" width="30.05" height="136.92" fill="#c00000" stroke="#a00000" stroke-width="0.8" />
<rect x="930.71" y="926.07" width="29.01" height="85.13" fill="#595959" stroke="#111" stroke-width="1.0" />
<rect x="960.12" y="840.96" width="30.05" height="170.24" fill="#c00000" stroke="#a00000" stroke-width="0.8" />
<rect x="772.50" y="707.60" width="225.00" height="303.60" fill="none" stroke="#a0a0a0" stroke-width="1.15" />
<line x1="764.10" y1="707.60" x2="772.50" y2="707.60" stroke="#a0a0a0" stroke-width="1.15" />
<text x="724.94" y="719.60" font-size="34.30" fill="#000" stroke="#000" stroke-width="0.3">12</text>
<line x1="764.10" y1="859.40" x2="772.50" y2="859.40" stroke="#a0a0a0" stroke-width="1.15" />
<text x="743.64" y="871.40" font-size="34.30" fill="#000" stroke="#000" stroke-width="0.3">6</text>
<line x1="764.10" y1="1011.20" x2="772.50" y2="1011.20" stroke="#a0a0a0" stroke-width="1.15" />
<text x="743.46" y="1023.20" font-size="34.30" fill="#000" stroke="#000" stroke-width="0.3">0</text>
<line x1="809.80" y1="1011.20" x2="809.80" y2="1019.50" stroke="#a0a0a0" stroke-width="1.15" />
<line x1="884.80" y1="1011.20" x2="884.80" y2="1019.50" stroke="#a0a0a0" stroke-width="1.15" />
<line x1="959.70" y1="1011.20" x2="959.70" y2="1019.50" stroke="#a0a0a0" stroke-width="1.15" />
<line x1="794.96" y1="982.82" x2="794.96" y2="989.32" stroke="#1a1a1a" stroke-width="1.05" />
<line x1="787.93" y1="982.82" x2="802.25" y2="982.82" stroke="#1a1a1a" stroke-width="1.05" />
<line x1="787.93" y1="989.32" x2="802.25" y2="989.32" stroke="#1a1a1a" stroke-width="1.05" />
<circle cx="794.96" cy="981.51" r="4.00" fill="#000" />
<circle cx="784.29" cy="989.32" r="4.00" fill="#000" />
<circle cx="805.89" cy="986.72" r="4.00" fill="#000" />
<line x1="824.89" y1="980.73" x2="824.89" y2="1001.04" stroke="#7a0000" stroke-width="1.05" stroke-opacity="0.68"/>
<line x1="817.60" y1="980.73" x2="832.18" y2="980.73" stroke="#7a0000" stroke-width="1.05" stroke-opacity="0.68"/>
<line x1="817.60" y1="1001.04" x2="832.18" y2="1001.04" stroke="#7a0000" stroke-width="1.05" stroke-opacity="0.68"/>
<circle cx="824.89" cy="980.73" r="4.00" fill="#6e0000" />
<circle cx="824.89" cy="990.10" r="4.00" fill="#6e0000" />
<circle cx="824.89" cy="1001.04" r="4.00" fill="#6e0000" />
<line x1="869.92" y1="927.64" x2="869.92" y2="941.17" stroke="#1a1a1a" stroke-width="1.05" />
<line x1="862.63" y1="927.64" x2="877.47" y2="927.64" stroke="#1a1a1a" stroke-width="1.05" />
<line x1="862.63" y1="941.17" x2="877.47" y2="941.17" stroke="#1a1a1a" stroke-width="1.05" />
<circle cx="858.99" cy="928.16" r="4.00" fill="#000" />
<circle cx="880.85" cy="933.88" r="4.00" fill="#000" />
<circle cx="869.92" cy="941.95" r="4.00" fill="#000" />
<line x1="899.85" y1="846.43" x2="899.85" y2="901.35" stroke="#7a0000" stroke-width="1.05" stroke-opacity="0.68"/>
<line x1="892.31" y1="846.43" x2="907.40" y2="846.43" stroke="#7a0000" stroke-width="1.05" stroke-opacity="0.68"/>
<line x1="892.31" y1="901.35" x2="907.40" y2="901.35" stroke="#7a0000" stroke-width="1.05" stroke-opacity="0.68"/>
<circle cx="899.85" cy="842.26" r="4.00" fill="#6e0000" />
<circle cx="889.44" cy="890.94" r="4.00" fill="#6e0000" />
<circle cx="910.53" cy="888.33" r="4.00" fill="#6e0000" />
<line x1="945.14" y1="906.81" x2="945.14" y2="944.03" stroke="#1a1a1a" stroke-width="1.05" />
<line x1="937.85" y1="906.81" x2="952.43" y2="906.81" stroke="#1a1a1a" stroke-width="1.05" />
<line x1="937.85" y1="944.03" x2="952.43" y2="944.03" stroke="#1a1a1a" stroke-width="1.05" />
<circle cx="945.14" cy="908.12" r="4.00" fill="#000" />
<circle cx="945.14" cy="922.43" r="4.00" fill="#000" />
<circle cx="945.14" cy="945.86" r="4.00" fill="#000" />
<line x1="975.07" y1="819.36" x2="975.07" y2="861.79" stroke="#7a0000" stroke-width="1.05" stroke-opacity="0.68"/>
<line x1="967.53" y1="819.36" x2="982.62" y2="819.36" stroke="#7a0000" stroke-width="1.05" stroke-opacity="0.68"/>
<line x1="967.53" y1="861.79" x2="982.62" y2="861.79" stroke="#7a0000" stroke-width="1.05" stroke-opacity="0.68"/>
<circle cx="975.07" cy="816.24" r="4.00" fill="#6e0000" />
<circle cx="964.40" cy="854.50" r="4.00" fill="#6e0000" />
<circle cx="985.75" cy="851.37" r="4.00" fill="#6e0000" />
<path d="M871.74 773.81 V768.08 H901.68 V773.81" fill="none" stroke="#222" stroke-width="1"/>
<text x="872.63" y="771.88" font-size="30.00" fill="#000" letter-spacing="1.900">**</text>
<path d="M946.70 749.08 V743.36 H976.64 V749.08" fill="none" stroke="#222" stroke-width="1"/>
<text x="943.39" y="747.16" font-size="30.00" fill="#000" letter-spacing="1.900">***</text>
<text transform="translate(917.01 821.75) rotate(-90)" font-size="30" letter-spacing="1.9">***</text>
<text transform="translate(884.21 905.92) rotate(-90)" font-size="30" letter-spacing="1.9">*</text>
<text transform="translate(961.25 890.32) rotate(-90)" font-size="30" letter-spacing="1.9">**</text>
<text transform="translate(991.71 798.33) rotate(-90)" font-size="30" letter-spacing="1.9">***</text>
<text x="784.29" y="744.14" font-size="34.60" fill="#595959" stroke="#595959" stroke-width="0.3" font-style="italic" letter-spacing="-0.341">Sp7</text>
<rect x="240.35" y="1328.39" width="29.01" height="35.41" fill="#595959" stroke="#333" stroke-width="0.7" />
<rect x="269.76" y="1296.38" width="30.05" height="67.42" fill="#c00000" stroke="#a00000" stroke-width="0.8" />
<rect x="315.05" y="1325.53" width="29.27" height="38.27" fill="#595959" stroke="#333" stroke-width="0.7" />
<rect x="344.72" y="1186.54" width="30.31" height="177.26" fill="#c00000" stroke="#a00000" stroke-width="0.8" />
<rect x="157.20" y="1060.50" width="225.00" height="303.30" fill="none" stroke="#a0a0a0" stroke-width="1.15" />
<line x1="148.80" y1="1060.50" x2="157.20" y2="1060.50" stroke="#a0a0a0" stroke-width="1.15" />
<text x="70.98" y="1072.50" font-size="34.30" fill="#000" stroke="#000" stroke-width="0.3">2000</text>
<line x1="148.80" y1="1212.15" x2="157.20" y2="1212.15" stroke="#a0a0a0" stroke-width="1.15" />
<text x="70.98" y="1224.15" font-size="34.30" fill="#000" stroke="#000" stroke-width="0.3">1000</text>
<line x1="148.80" y1="1363.80" x2="157.20" y2="1363.80" stroke="#a0a0a0" stroke-width="1.15" />
<text x="128.26" y="1375.80" font-size="34.30" fill="#000" stroke="#000" stroke-width="0.3">0</text>
<line x1="194.30" y1="1363.80" x2="194.30" y2="1372.10" stroke="#a0a0a0" stroke-width="1.15" />
<line x1="269.40" y1="1363.80" x2="269.40" y2="1372.10" stroke="#a0a0a0" stroke-width="1.15" />
<line x1="344.40" y1="1363.80" x2="344.40" y2="1372.10" stroke="#a0a0a0" stroke-width="1.15" />
<circle cx="168.79" cy="1363.79" r="4.00" fill="#000" />
<circle cx="179.80" cy="1363.79" r="4.00" fill="#000" />
<circle cx="190.39" cy="1363.79" r="4.00" fill="#000" />
<circle cx="198.90" cy="1363.79" r="4.00" fill="#6e0000" />
<circle cx="209.81" cy="1363.79" r="4.00" fill="#6e0000" />
<circle cx="220.01" cy="1363.79" r="4.00" fill="#6e0000" />
<line x1="254.52" y1="1322.40" x2="254.52" y2="1333.60" stroke="#1a1a1a" stroke-width="1.05" />
<line x1="247.24" y1="1322.40" x2="261.81" y2="1322.40" stroke="#1a1a1a" stroke-width="1.05" />
<line x1="247.24" y1="1333.60" x2="261.81" y2="1333.60" stroke="#1a1a1a" stroke-width="1.05" />
<circle cx="243.59" cy="1324.49" r="4.00" fill="#000" />
<circle cx="265.20" cy="1325.27" r="4.00" fill="#000" />
<circle cx="254.52" cy="1334.38" r="4.00" fill="#000" />
<line x1="284.72" y1="1272.17" x2="284.72" y2="1319.28" stroke="#7a0000" stroke-width="1.05" stroke-opacity="0.68"/>
<line x1="277.17" y1="1272.17" x2="292.26" y2="1272.17" stroke="#7a0000" stroke-width="1.05" stroke-opacity="0.68"/>
<line x1="277.17" y1="1319.28" x2="292.26" y2="1319.28" stroke="#7a0000" stroke-width="1.05" stroke-opacity="0.68"/>
<circle cx="284.72" cy="1269.05" r="4.00" fill="#6e0000" />
<circle cx="284.72" cy="1304.19" r="4.00" fill="#6e0000" />
<circle cx="284.72" cy="1314.60" r="4.00" fill="#6e0000" />
<line x1="329.48" y1="1322.40" x2="329.48" y2="1328.13" stroke="#1a1a1a" stroke-width="1.05" />
<line x1="322.20" y1="1322.40" x2="337.03" y2="1322.40" stroke="#1a1a1a" stroke-width="1.05" />
<line x1="322.20" y1="1328.13" x2="337.03" y2="1328.13" stroke="#1a1a1a" stroke-width="1.05" />
<circle cx="329.48" cy="1321.62" r="4.00" fill="#000" />
<circle cx="318.81" cy="1327.61" r="4.00" fill="#000" />
<circle cx="340.16" cy="1326.57" r="4.00" fill="#000" />
<line x1="359.42" y1="1163.89" x2="359.42" y2="1208.66" stroke="#7a0000" stroke-width="1.05" stroke-opacity="0.68"/>
<line x1="351.87" y1="1163.89" x2="366.97" y2="1163.89" stroke="#7a0000" stroke-width="1.05" stroke-opacity="0.68"/>
<line x1="351.87" y1="1208.66" x2="366.97" y2="1208.66" stroke="#7a0000" stroke-width="1.05" stroke-opacity="0.68"/>
<circle cx="359.42" cy="1162.33" r="4.00" fill="#6e0000" />
<circle cx="359.42" cy="1189.14" r="4.00" fill="#6e0000" />
<circle cx="359.42" cy="1206.58" r="4.00" fill="#6e0000" />
<path d="M332.61 1098.56 V1092.84 H362.54 V1098.56" fill="none" stroke="#222" stroke-width="1"/>
<text x="328.25" y="1096.64" font-size="30.00" fill="#000" letter-spacing="1.900">***</text>
<text transform="translate(300.31 1253.61) rotate(-90)" font-size="30" letter-spacing="1.9">***</text>
<text transform="translate(345.08 1299.64) rotate(-90)" font-size="30" letter-spacing="1.9">*</text>
<text transform="translate(375.27 1147.68) rotate(-90)" font-size="30" letter-spacing="1.9">***</text>
<text x="166.29" y="1095.96" font-size="34.60" fill="#595959" stroke="#595959" stroke-width="0.3" font-style="italic" letter-spacing="-0.304">Bglap</text>
<rect x="472.65" y="1362.88" width="29.01" height="0.92" fill="#595959" stroke="#111" stroke-width="1.0" />
<rect x="502.06" y="1362.88" width="29.79" height="0.92" fill="#c00000" stroke="#a00000" stroke-width="0.8" />
<rect x="547.35" y="1354.42" width="29.53" height="9.38" fill="#595959" stroke="#111" stroke-width="1.0" />
<rect x="577.28" y="1341.93" width="29.53" height="21.87" fill="#c00000" stroke="#a00000" stroke-width="0.8" />
<rect x="622.57" y="1295.60" width="29.27" height="68.20" fill="#595959" stroke="#111" stroke-width="1.0" />
<rect x="652.24" y="1192.26" width="29.79" height="171.54" fill="#c00000" stroke="#a00000" stroke-width="0.8" />
<rect x="464.50" y="1060.50" width="225.20" height="303.30" fill="none" stroke="#a0a0a0" stroke-width="1.15" />
<line x1="456.10" y1="1060.50" x2="464.50" y2="1060.50" stroke="#a0a0a0" stroke-width="1.15" />
<text x="397.29" y="1072.50" font-size="34.30" fill="#000" stroke="#000" stroke-width="0.3">300</text>
<line x1="456.10" y1="1212.15" x2="464.50" y2="1212.15" stroke="#a0a0a0" stroke-width="1.15" />
<text x="397.29" y="1224.15" font-size="34.30" fill="#000" stroke="#000" stroke-width="0.3">150</text>
<line x1="456.10" y1="1363.80" x2="464.50" y2="1363.80" stroke="#a0a0a0" stroke-width="1.15" />
<text x="435.36" y="1375.80" font-size="34.30" fill="#000" stroke="#000" stroke-width="0.3">0</text>
<line x1="501.70" y1="1363.80" x2="501.70" y2="1372.10" stroke="#a0a0a0" stroke-width="1.15" />
<line x1="576.60" y1="1363.80" x2="576.60" y2="1372.10" stroke="#a0a0a0" stroke-width="1.15" />
<line x1="651.60" y1="1363.80" x2="651.60" y2="1372.10" stroke="#a0a0a0" stroke-width="1.15" />
<circle cx="475.79" cy="1363.79" r="4.00" fill="#000" />
<circle cx="486.90" cy="1362.49" r="4.00" fill="#000" />
<circle cx="497.81" cy="1363.19" r="4.00" fill="#000" />
<circle cx="506.08" cy="1363.19" r="4.00" fill="#6e0000" />
<circle cx="516.89" cy="1363.19" r="4.00" fill="#6e0000" />
<circle cx="527.61" cy="1363.19" r="4.00" fill="#6e0000" />
<line x1="561.78" y1="1351.56" x2="561.78" y2="1356.24" stroke="#1a1a1a" stroke-width="1.05" />
<line x1="554.50" y1="1351.56" x2="569.07" y2="1351.56" stroke="#1a1a1a" stroke-width="1.05" />
<line x1="554.50" y1="1356.24" x2="569.07" y2="1356.24" stroke="#1a1a1a" stroke-width="1.05" />
<circle cx="551.11" cy="1356.24" r="4.00" fill="#000" />
<circle cx="561.78" cy="1351.04" r="4.00" fill="#000" />
<circle cx="572.72" cy="1354.16" r="4.00" fill="#000" />
<line x1="591.72" y1="1335.94" x2="591.72" y2="1346.61" stroke="#7a0000" stroke-width="1.05" stroke-opacity="0.68"/>
<line x1="584.43" y1="1335.94" x2="599.52" y2="1335.94" stroke="#7a0000" stroke-width="1.05" stroke-opacity="0.68"/>
<line x1="584.43" y1="1346.61" x2="599.52" y2="1346.61" stroke="#7a0000" stroke-width="1.05" stroke-opacity="0.68"/>
<circle cx="580.78" cy="1335.42" r="4.00" fill="#6e0000" />
<circle cx="580.78" cy="1345.05" r="4.00" fill="#6e0000" />
<circle cx="602.65" cy="1342.71" r="4.00" fill="#6e0000" />
<line x1="636.74" y1="1278.16" x2="636.74" y2="1311.47" stroke="#1a1a1a" stroke-width="1.05" />
<line x1="629.20" y1="1278.16" x2="644.29" y2="1278.16" stroke="#1a1a1a" stroke-width="1.05" />
<line x1="629.20" y1="1311.47" x2="644.29" y2="1311.47" stroke="#1a1a1a" stroke-width="1.05" />
<circle cx="636.74" cy="1276.60" r="4.00" fill="#000" />
<circle cx="626.07" cy="1307.83" r="4.00" fill="#000" />
<circle cx="647.42" cy="1300.28" r="4.00" fill="#000" />
<line x1="666.94" y1="1175.35" x2="666.94" y2="1208.40" stroke="#7a0000" stroke-width="1.05" stroke-opacity="0.68"/>
<line x1="659.39" y1="1175.35" x2="674.49" y2="1175.35" stroke="#7a0000" stroke-width="1.05" stroke-opacity="0.68"/>
<line x1="659.39" y1="1208.40" x2="674.49" y2="1208.40" stroke="#7a0000" stroke-width="1.05" stroke-opacity="0.68"/>
<circle cx="666.94" cy="1175.35" r="4.00" fill="#6e0000" />
<circle cx="666.94" cy="1191.48" r="4.00" fill="#6e0000" />
<circle cx="666.94" cy="1208.40" r="4.00" fill="#6e0000" />
<path d="M639.61 1108.97 V1103.25 H669.54 V1108.97" fill="none" stroke="#222" stroke-width="1"/>
<text x="635.77" y="1107.05" font-size="30.00" fill="#000" letter-spacing="1.900">***</text>
<text transform="translate(652.08 1259.60) rotate(-90)" font-size="30" letter-spacing="1.9">***</text>
<text transform="translate(682.27 1158.48) rotate(-90)" font-size="30" letter-spacing="1.9">***</text>
<text x="476.33" y="1095.96" font-size="34.60" fill="#595959" stroke="#595959" stroke-width="0.3" font-style="italic" letter-spacing="-0.332">Ifitm5</text>
<rect x="781.04" y="1360.67" width="29.53" height="3.13" fill="#595959" stroke="#111" stroke-width="1.0" />
<rect x="810.98" y="1359.10" width="29.53" height="4.70" fill="#c00000" stroke="#a00000" stroke-width="0.8" />
<rect x="856.01" y="1334.12" width="29.27" height="29.68" fill="#595959" stroke="#111" stroke-width="1.0" />
<rect x="885.68" y="1320.32" width="29.79" height="43.48" fill="#c00000" stroke="#a00000" stroke-width="0.8" />
<rect x="930.71" y="1318.50" width="29.53" height="45.30" fill="#595959" stroke="#111" stroke-width="1.0" />
<rect x="960.64" y="1228.70" width="30.05" height="135.10" fill="#c00000" stroke="#a00000" stroke-width="0.8" />
<rect x="773.00" y="1060.50" width="224.60" height="303.30" fill="none" stroke="#a0a0a0" stroke-width="1.15" />
<line x1="764.60" y1="1060.50" x2="773.00" y2="1060.50" stroke="#a0a0a0" stroke-width="1.15" />
<text x="724.43" y="1072.50" font-size="34.30" fill="#000" stroke="#000" stroke-width="0.3">80</text>
<line x1="764.60" y1="1212.15" x2="773.00" y2="1212.15" stroke="#a0a0a0" stroke-width="1.15" />
<text x="724.43" y="1224.15" font-size="34.30" fill="#000" stroke="#000" stroke-width="0.3">40</text>
<line x1="764.60" y1="1363.80" x2="773.00" y2="1363.80" stroke="#a0a0a0" stroke-width="1.15" />
<text x="743.46" y="1375.80" font-size="34.30" fill="#000" stroke="#000" stroke-width="0.3">0</text>
<line x1="810.40" y1="1363.80" x2="810.40" y2="1372.10" stroke="#a0a0a0" stroke-width="1.15" />
<line x1="885.30" y1="1363.80" x2="885.30" y2="1372.10" stroke="#a0a0a0" stroke-width="1.15" />
<line x1="960.20" y1="1363.80" x2="960.20" y2="1372.10" stroke="#a0a0a0" stroke-width="1.15" />
<circle cx="784.50" cy="1360.80" r="4.00" fill="#000" />
<circle cx="795.40" cy="1359.00" r="4.00" fill="#000" />
<circle cx="806.10" cy="1359.99" r="4.00" fill="#000" />
<line x1="825.41" y1="1356.76" x2="825.41" y2="1360.93" stroke="#7a0000" stroke-width="1.05" stroke-opacity="0.68"/>
<line x1="818.13" y1="1356.76" x2="832.70" y2="1356.76" stroke="#7a0000" stroke-width="1.05" stroke-opacity="0.68"/>
<line x1="818.13" y1="1360.93" x2="832.70" y2="1360.93" stroke="#7a0000" stroke-width="1.05" stroke-opacity="0.68"/>
<circle cx="814.61" cy="1359.99" r="4.00" fill="#6e0000" />
<circle cx="825.31" cy="1356.50" r="4.00" fill="#6e0000" />
<circle cx="836.08" cy="1358.79" r="4.00" fill="#6e0000" />
<line x1="870.44" y1="1328.91" x2="870.44" y2="1338.54" stroke="#1a1a1a" stroke-width="1.05" />
<line x1="863.15" y1="1328.91" x2="877.73" y2="1328.91" stroke="#1a1a1a" stroke-width="1.05" />
<line x1="863.15" y1="1338.54" x2="877.73" y2="1338.54" stroke="#1a1a1a" stroke-width="1.05" />
<circle cx="859.51" cy="1328.13" r="4.00" fill="#000" />
<circle cx="859.51" cy="1336.98" r="4.00" fill="#000" />
<circle cx="881.11" cy="1335.94" r="4.00" fill="#000" />
<line x1="900.37" y1="1316.42" x2="900.37" y2="1323.71" stroke="#7a0000" stroke-width="1.05" stroke-opacity="0.68"/>
<line x1="892.83" y1="1316.42" x2="907.92" y2="1316.42" stroke="#7a0000" stroke-width="1.05" stroke-opacity="0.68"/>
<line x1="892.83" y1="1323.71" x2="907.92" y2="1323.71" stroke="#7a0000" stroke-width="1.05" stroke-opacity="0.68"/>
<circle cx="900.37" cy="1315.90" r="4.00" fill="#6e0000" />
<circle cx="889.70" cy="1322.40" r="4.00" fill="#6e0000" />
<circle cx="911.31" cy="1321.10" r="4.00" fill="#6e0000" />
<line x1="945.92" y1="1312.51" x2="945.92" y2="1323.71" stroke="#1a1a1a" stroke-width="1.05" />
<line x1="938.38" y1="1312.51" x2="953.47" y2="1312.51" stroke="#1a1a1a" stroke-width="1.05" />
<line x1="938.38" y1="1323.71" x2="953.47" y2="1323.71" stroke="#1a1a1a" stroke-width="1.05" />
<circle cx="934.73" cy="1312.51" r="4.00" fill="#000" />
<circle cx="934.73" cy="1322.93" r="4.00" fill="#000" />
<circle cx="956.60" cy="1319.54" r="4.00" fill="#000" />
<line x1="975.34" y1="1205.28" x2="975.34" y2="1251.87" stroke="#7a0000" stroke-width="1.05" stroke-opacity="0.68"/>
<line x1="967.79" y1="1205.28" x2="982.88" y2="1205.28" stroke="#7a0000" stroke-width="1.05" stroke-opacity="0.68"/>
<line x1="967.79" y1="1251.87" x2="982.88" y2="1251.87" stroke="#7a0000" stroke-width="1.05" stroke-opacity="0.68"/>
<circle cx="975.34" cy="1207.88" r="4.00" fill="#6e0000" />
<circle cx="975.34" cy="1224.28" r="4.00" fill="#6e0000" />
<circle cx="975.34" cy="1253.95" r="4.00" fill="#6e0000" />
<path d="M948.53 1148.80 V1143.07 H978.46 V1148.80" fill="none" stroke="#222" stroke-width="1"/>
<text x="944.69" y="1146.87" font-size="30.00" fill="#000" letter-spacing="1.900">***</text>
<text transform="translate(917.53 1298.62) rotate(-90)" font-size="30" letter-spacing="1.9">**</text>
<text transform="translate(962.30 1291.98) rotate(-90)" font-size="30" letter-spacing="1.9">**</text>
<text transform="translate(991.19 1195.44) rotate(-90)" font-size="30" letter-spacing="1.9">***</text>
<text x="784.29" y="1095.96" font-size="34.60" fill="#595959" stroke="#595959" stroke-width="0.3" font-style="italic" letter-spacing="-0.430">Phospho1</text>
<text x="81.73" y="1404.90" font-size="34.60" fill="#000" stroke="#000" stroke-width="0.3" letter-spacing="-0.310">Day</text>
<text x="184.90" y="1405.20" font-size="34.30" fill="#000" stroke="#000" stroke-width="0.3">0</text>
<text x="249.89" y="1405.20" font-size="34.30" fill="#000" stroke="#000" stroke-width="0.3">14</text>
<text x="325.89" y="1405.20" font-size="34.30" fill="#000" stroke="#000" stroke-width="0.3">28</text>
<text x="492.70" y="1405.20" font-size="34.30" fill="#000" stroke="#000" stroke-width="0.3">0</text>
<text x="557.19" y="1405.20" font-size="34.30" fill="#000" stroke="#000" stroke-width="0.3">14</text>
<text x="632.79" y="1405.20" font-size="34.30" fill="#000" stroke="#000" stroke-width="0.3">28</text>
<text x="800.80" y="1405.20" font-size="34.30" fill="#000" stroke="#000" stroke-width="0.3">0</text>
<text x="865.39" y="1405.20" font-size="34.30" fill="#000" stroke="#000" stroke-width="0.3">14</text>
<text x="940.89" y="1405.20" font-size="34.30" fill="#000" stroke="#000" stroke-width="0.3">28</text>
<rect x="386.00" y="1427.60" width="27.20" height="27.20" fill="#595959" stroke="#1a1a1a" stroke-width="1.6" />
<text x="417.23" y="1453.20" font-size="34.60" fill="#000" stroke="#000" stroke-width="0.3" letter-spacing="0.187">NegCtrl</text>
<rect x="581.00" y="1427.60" width="27.20" height="27.20" fill="#c00000" stroke="#8a0000" stroke-width="1.6" />
<text x="615.51" y="1453.20" font-size="34.60" fill="#505050" stroke="#505050" stroke-width="0.3" letter-spacing="-0.365">TET2 o/e</text>
</g>
</svg>
</body></html>
